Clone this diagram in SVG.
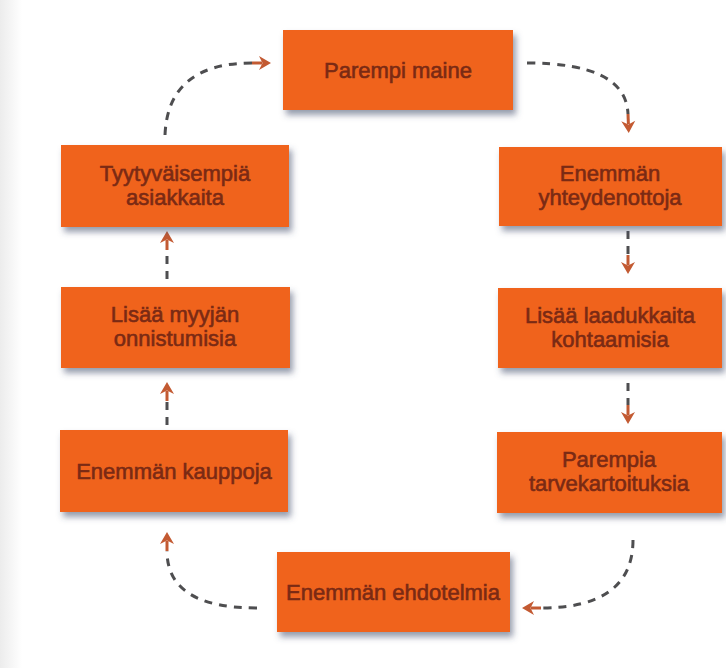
<svg xmlns="http://www.w3.org/2000/svg" width="726" height="668" viewBox="0 0 726 668">
<defs>
<style>
.box{fill:#F0641E;filter:url(#sh);}
.lbl{font-family:"Liberation Sans",Arial,sans-serif;font-size:22px;fill:#7A2A14;stroke:#7A2A14;stroke-width:0.6;text-anchor:middle;}
.con{fill:none;stroke:#4E4E50;stroke-width:3;stroke-dasharray:8 7;marker-end:url(#ah);}
</style>
<filter id="sh" x="-10%" y="-15%" width="125%" height="145%">
<feDropShadow dx="3" dy="5" stdDeviation="3" flood-color="#3E4C6A" flood-opacity="0.55"/>
</filter>
<marker id="ah" viewBox="0 -8 20 16" refX="0" refY="0" markerWidth="20" markerHeight="16" markerUnits="userSpaceOnUse" orient="auto" overflow="visible">
<path d="M0,0 L10,0" stroke="#C35A32" stroke-width="3"/>
<path d="M19,0 L7,-7 L10.5,0 L7,7 Z" fill="#C35A32"/>
</marker>
<linearGradient id="band" x1="0" y1="0" x2="1" y2="0">
<stop offset="0" stop-color="#ECECEC"/>
<stop offset="1" stop-color="#FFFFFF"/>
</linearGradient>
</defs>
<rect x="0" y="0" width="726" height="668" fill="#FFFFFF"/>
<rect x="0" y="0" width="22" height="668" fill="url(#band)"/>

<g id="connectors">
<path class="con" d="M165,135 Q168,63 252,63"/>
<path class="con" d="M527,63 Q626,63 628,114"/>
<path class="con" d="M628,231 L628,255"/>
<path class="con" d="M628,383 L628,405"/>
<path class="con" d="M633,540 Q633,608 541,608"/>
<path class="con" d="M257,608 Q167,608 167,551"/>
<path class="con" d="M167,425 L167,401"/>
<path class="con" d="M167,279 L167,250"/>
</g>

<g id="n1">
<rect class="box" x="283" y="30" width="230" height="80"/>
<text class="lbl" x="398" y="78">Parempi maine</text>
</g>
<g id="n2">
<rect class="box" x="499" y="147" width="223" height="79"/>
<text class="lbl" x="610" y="181">Enemmän</text>
<text class="lbl" x="610" y="205">yhteydenottoja</text>
</g>
<g id="n3">
<rect class="box" x="498" y="288" width="224" height="80"/>
<text class="lbl" x="610" y="323">Lisää laadukkaita</text>
<text class="lbl" x="610" y="347">kohtaamisia</text>
</g>
<g id="n4">
<rect class="box" x="497" y="432" width="225" height="81"/>
<text class="lbl" x="609" y="467">Parempia</text>
<text class="lbl" x="609" y="491">tarvekartoituksia</text>
</g>
<g id="n5">
<rect class="box" x="277" y="552" width="233" height="80"/>
<text class="lbl" x="393" y="600">Enemmän ehdotelmia</text>
</g>
<g id="n6">
<rect class="box" x="60" y="430" width="228" height="82"/>
<text class="lbl" x="174" y="479">Enemmän kauppoja</text>
</g>
<g id="n7">
<rect class="box" x="61" y="287" width="229" height="81"/>
<text class="lbl" x="175" y="322">Lisää myyjän</text>
<text class="lbl" x="175" y="346">onnistumisia</text>
</g>
<g id="n8">
<rect class="box" x="61" y="145" width="228" height="82"/>
<text class="lbl" x="175" y="181">Tyytyväisempiä</text>
<text class="lbl" x="175" y="205">asiakkaita</text>
</g>
</svg>
